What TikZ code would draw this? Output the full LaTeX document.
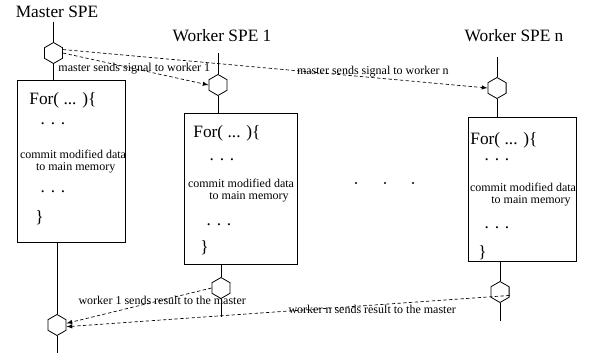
\documentclass[tikz,border=0pt]{standalone}
\usepackage{fontspec}
\setmainfont{Liberation Serif}
\usepackage{tikz}
\usetikzlibrary{arrows,shapes.geometric,calc}

\tikzset{
  hexa/.style={draw, regular polygon, regular polygon sides=6, shape border rotate=90, minimum size=15.75pt, inner sep=0pt},
  speblock/.style={draw, rectangle, inner sep=0pt},
  bigtext/.style={font=\fontsize{13}{15}\selectfont, inner sep=0pt},
  smalltext/.style={font=\fontsize{9}{10}\selectfont, inner sep=0pt, align=center},
  signal/.style={line width=0.5pt, dash pattern=on 2.5pt off 1.8pt, -latex},
}

\begin{document}
\begin{tikzpicture}[x=0.75pt, y=-0.75pt, line width=0.6pt]
\useasboundingbox (0,0) rectangle (591,353);

\node[bigtext] (mtitle) at (57,12) {Master SPE};
\node[bigtext] (w1title) at (222,36) {Worker SPE 1};
\node[bigtext] (wntitle) at (514,36) {Worker SPE n};

\coordinate (mtop) at (53.5,22);
\coordinate (w1top) at (218,53);
\coordinate (wntop) at (497,57);
\coordinate (mend) at (57,353);
\coordinate (w1end) at (221,317);
\coordinate (wnend) at (500,321);

\node[hexa] (mhex1) at (53.5,53) {};
\node[hexa] (w1hex1) at (218,85) {};
\node[hexa] (wnhex1) at (497,88) {};
\node[hexa] (mhex2) at (57,325) {};
\node[hexa] (w1hex2) at (221,288) {};
\node[hexa] (wnhex2) at (500,292) {};

\node[speblock, minimum width=81pt, minimum height=121.5pt] (mbox) at (71,161) {};
\node[speblock, minimum width=84.75pt, minimum height=113.25pt] (w1box) at (240.5,188.5) {};
\node[speblock, minimum width=81pt, minimum height=108pt] (wnbox) at (522,189) {};

\node[bigtext, anchor=west] at (29,100) {For( ... )\{};
\node[bigtext] at (53,124) {. . .};
\node[smalltext] at (73,162) {commit modified data\\[-1pt]\hspace*{4pt}to main memory};
\node[bigtext] at (53,192) {. . .};
\node[bigtext, anchor=west] at (35,218) {\}};

\node[bigtext, anchor=west] at (193,133) {For( ... )\{};
\node[bigtext] at (222,160) {. . .};
\node[smalltext] at (241,191) {commit modified data\\[-1pt]\hspace*{12pt}to main memory};
\node[bigtext] at (219,225) {. . .};
\node[bigtext, anchor=west] at (200,248) {\}};

\node[bigtext, anchor=west] at (470,140) {For( ... )\{};
\node[bigtext] at (497,160) {. . .};
\node[smalltext] at (523,195) {commit modified data\\[-1pt]\hspace*{12pt}to main memory};
\node[bigtext] at (497,228) {. . .};
\node[bigtext, anchor=west] at (478,253) {\}};

\foreach \x in {356,385,413}
  \fill (\x,183) circle (0.8pt);

\draw (mtop) -- (mhex1) -- (mhex1 |- mbox.north);
\draw (mbox.south -| mhex2) -- (mhex2) -- (mend);
\draw (w1top) -- (w1hex1) -- (w1hex1 |- w1box.north);
\draw (w1box.south -| w1hex2) -- (w1hex2) -- (w1end);
\draw (wntop) -- (wnhex1) -- (wnhex1 |- wnbox.north);
\draw (wnbox.south -| wnhex2) -- (wnhex2) -- (wnend);

\draw[signal] (mhex1.east) -- node[smalltext, pos=0.49] {master sends signal to worker 1} (w1hex1.west);
\draw[signal] (mhex1.20) -- node[smalltext, pos=0.73, above] {master sends signal to worker n} (wnhex1.west);
\draw[signal] (w1hex2.west) -- node[smalltext, pos=0.34] {worker 1 sends result to the master} (mhex2.10);
\draw[signal] (wnhex2.-20) -- node[smalltext, pos=0.31, below] {worker n sends result to the master} (mhex2.-10);
\end{tikzpicture}
\end{document}
